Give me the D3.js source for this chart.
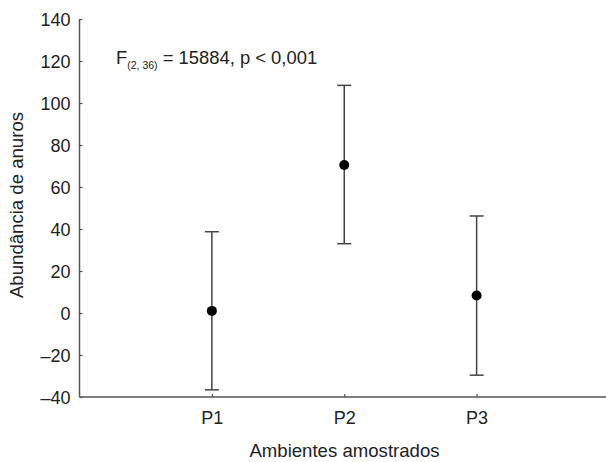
<!DOCTYPE html>
<html><head><meta charset="utf-8">
<script src="https://cdn.jsdelivr.net/npm/d3@7"></script>
<style>body{margin:0;background:#fff}svg{display:block}text{font-family:"Liberation Sans",Arial,sans-serif;fill:#222}</style>
</head><body><svg id="c" width="606" height="462"></svg>
<script>
const categories = ["P1", "P2", "P3"];
const means = [1, 70.5, 8.3];
const upper = [38.7, 108.4, 46.2];
const lower = [-36.6, 33, -29.6];
const yTicks = [-40, -20, 0, 20, 40, 60, 80, 100, 120, 140];

const svg = d3.select("#c");
const x = d3.scaleLinear().domain([0, 4]).range([79.5, 609]);
const y = d3.scaleLinear().domain([-40, 140]).range([397, 19]);
const axisColor = "#555";

// y axis
const ya = svg.append("g").attr("transform", "translate(79.5,0)")
  .call(d3.axisRight(y).tickValues(yTicks).tickSize(3).tickFormat(d => d < 0 ? "–" + Math.abs(d) : d));
ya.select(".domain").attr("stroke", axisColor).attr("stroke-width", 1.5).attr("d", `M0,${y(140)}V${y(-40)}`);
ya.selectAll(".tick line").attr("stroke", axisColor).attr("stroke-width", 1.2);
ya.selectAll(".tick text").attr("x", -9).attr("text-anchor", "end").attr("dy", "0.35em")
  .style("font-size", "18px").attr("fill", "#222");

// x axis
const xa = svg.append("g").attr("transform", `translate(0,${y(-40)})`)
  .call(d3.axisTop(x).tickValues([1, 2, 3]).tickSize(3).tickFormat((d) => categories[d - 1]));
xa.select(".domain").attr("stroke", axisColor).attr("stroke-width", 1.5).attr("d", `M${x(0)},0H${x(4)}`);
xa.selectAll(".tick line").attr("stroke", axisColor).attr("stroke-width", 1.2);
xa.selectAll(".tick text").attr("y", 27).attr("dy", 0).style("font-size", "18px").attr("fill", "#222");

// error bars
const g = svg.append("g");
categories.forEach((c, i) => {
  const cx = x(i + 1);
  g.append("line").attr("x1", cx).attr("x2", cx).attr("y1", y(upper[i])).attr("y2", y(lower[i]))
    .attr("stroke", "#444").attr("stroke-width", 1.5);
  [upper[i], lower[i]].forEach(v => {
    g.append("line").attr("x1", cx - 7).attr("x2", cx + 7).attr("y1", y(v)).attr("y2", y(v))
      .attr("stroke", "#444").attr("stroke-width", 1.5);
  });
  g.append("circle").attr("cx", cx).attr("cy", y(means[i])).attr("r", 5).attr("fill", "#000");
});

// axis titles
svg.append("text").attr("x", 344.5).attr("y", 457)
  .attr("text-anchor", "middle").style("font-size", "18.6px").text("Ambientes amostrados");
svg.append("text").attr("transform", "translate(23,205) rotate(-90)")
  .attr("text-anchor", "middle").style("font-size", "18.6px").text("Abundância de anuros");

// annotation
const t = svg.append("text").attr("x", 116).attr("y", 64).style("font-size", "18.4px");
t.append("tspan").text("F");
t.append("tspan").attr("dy", 5).style("font-size", "10.5px").text("(2, 36)");
t.append("tspan").attr("dy", -5).text(" = 15884, p < 0,001");
</script></body></html>
